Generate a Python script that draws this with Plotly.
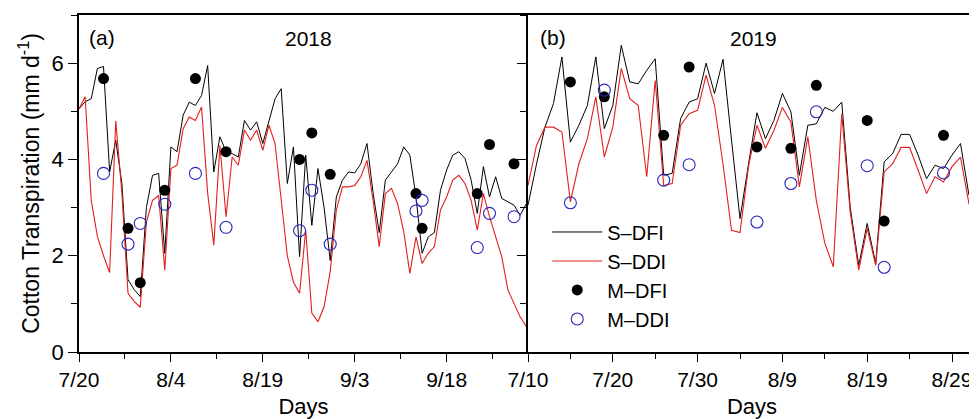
import plotly.graph_objects as go

# ---------------- data ----------------
# 2018 panel: days since 7/20
days_2018 = list(range(74))
sdfi_2018 = [5.05, 5.20, 5.26, 5.89, 5.93, 3.74, 4.40, 3.50, 1.50, 1.30,
             1.15, 3.00, 3.67, 3.71, 2.05, 4.26, 4.16, 4.92, 5.19, 5.12,
             5.33, 5.95, 3.74, 4.47, 4.16, 4.12, 4.05, 4.81, 4.61, 4.78,
             4.33, 4.81, 5.26, 5.47, 3.50, 4.26, 1.98, 4.09, 2.63, 3.81,
             3.00, 1.90, 3.22, 3.57, 3.74, 3.72, 3.91, 4.33, 3.30, 2.48,
             3.57, 3.74, 3.91, 4.26, 4.09, 3.22, 2.05, 2.39, 2.48, 3.36,
             3.78, 4.09, 4.16, 4.02, 3.57, 2.88, 3.85, 3.22, 3.64, 3.19,
             3.12, 3.05, 2.84, 3.08]
sddi_2018 = [5.05, 5.30, 3.15, 2.40, 2.00, 1.65, 4.80, 3.30, 1.22, 1.05,
             0.93, 2.70, 3.15, 3.25, 1.70, 3.81, 3.88, 4.64, 4.88, 4.81,
             5.09, 3.30, 2.22, 4.29, 2.81, 4.05, 3.88, 4.61, 4.40, 4.61,
             4.19, 4.71, 4.33, 3.15, 2.00, 1.45, 1.22, 2.53, 0.81, 0.63,
             0.94, 1.67, 2.95, 3.43, 3.43, 3.46, 3.64, 3.98, 3.15, 2.19,
             3.29, 3.40, 3.08, 2.50, 1.63, 2.39, 1.84, 2.05, 2.19, 2.95,
             3.22, 3.57, 3.67, 3.50, 3.15, 2.53, 3.29, 2.81, 2.39, 1.98,
             1.29, 1.01, 0.73, 0.53]
obs_days_2018 = [4, 8, 10, 14, 19, 24, 36, 38, 41, 55, 56, 65, 67, 71]
mdfi_2018 = [5.68, 2.57, 1.44, 3.36, 5.68, 4.16, 4.00, 4.55, 3.69, 3.29, 2.57, 3.29, 4.31, 3.91]
mddi_2018 = [3.71, 2.24, 2.67, 3.07, 3.71, 2.59, 2.52, 3.36, 2.24, 2.93, 3.15, 2.17, 2.88, 2.81]

# 2019 panel: days since 7/10
days_2019 = list(range(54))
sdfi_2019 = [3.05, 3.90, 4.67, 5.16, 6.13, 4.36, 4.71, 5.12, 6.13, 4.64,
             5.12, 6.37, 5.61, 5.57, 5.85, 6.09, 3.67, 3.71, 4.85, 5.19,
             5.26, 6.00, 5.37, 6.08, 4.40, 2.77, 3.90, 4.97, 4.43, 4.81,
             5.37, 4.99, 3.67, 4.71, 4.74, 5.08, 5.00, 5.19, 3.00, 1.80,
             2.67, 1.84, 3.95, 4.12, 4.52, 4.52, 4.09, 3.60, 3.88, 3.81,
             4.09, 4.33, 3.26, 3.33]
sddi_2019 = [3.46, 4.29, 4.67, 4.67, 4.57, 3.12, 3.91, 4.43, 5.30, 4.05,
             4.67, 5.89, 5.26, 5.12, 3.64, 5.64, 3.46, 3.50, 4.71, 4.95,
             5.02, 5.75, 5.12, 3.90, 2.53, 2.48, 3.85, 4.71, 4.23, 4.60,
             5.08, 4.78, 3.43, 4.47, 3.15, 2.26, 1.77, 4.95, 2.90, 1.70,
             2.57, 1.80, 3.74, 3.91, 4.25, 4.25, 3.78, 3.29, 3.64, 3.53,
             3.85, 4.05, 3.08, 3.15]
obs_days_2019 = [5, 9, 16, 19, 27, 31, 34, 40, 42, 49]
mdfi_2019 = [5.61, 5.30, 4.50, 5.92, 4.26, 4.23, 5.54, 4.81, 2.72, 4.50]
mddi_2019 = [3.10, 5.44, 3.57, 3.89, 2.70, 3.50, 4.99, 3.87, 1.76, 3.72]

# tick labels
ticks_2018 = [0, 15, 30, 45, 60]
labels_2018 = ["7/20", "8/4", "8/19", "9/3", "9/18"]
ticks_2019 = [0, 10, 20, 30, 40, 50]
labels_2019 = ["7/10", "7/20", "7/30", "8/9", "8/19", "8/29"]
y_ticks = [0, 2, 4, 6]

# ---------------- style ----------------
FONT = "Liberation Sans, Arial, sans-serif"
BLACK = "#000000"
RED = "rgb(228,30,30)"
BLUE = "rgb(40,40,185)"

fig = go.Figure()

def add_panel(xd, s_dfi, s_ddi, od, m_dfi, m_ddi, xa, ya, show):
    fig.add_trace(go.Scatter(x=xd, y=s_dfi, mode="lines", name="S\u2013DFI",
                             line=dict(color=BLACK, width=1), xaxis=xa, yaxis=ya,
                             legendgroup="a", showlegend=show))
    fig.add_trace(go.Scatter(x=xd, y=s_ddi, mode="lines", name="S\u2013DDI",
                             line=dict(color=RED, width=1.1), xaxis=xa, yaxis=ya,
                             legendgroup="b", showlegend=show))
    fig.add_trace(go.Scatter(x=od, y=m_dfi, mode="markers", name="M\u2013DFI",
                             marker=dict(color=BLACK, size=11, symbol="circle"),
                             xaxis=xa, yaxis=ya, legendgroup="c", showlegend=show))
    fig.add_trace(go.Scatter(x=od, y=m_ddi, mode="markers", name="M\u2013DDI",
                             marker=dict(color=BLUE, size=12, symbol="circle-open",
                                         line=dict(color=BLUE, width=1.1)),
                             xaxis=xa, yaxis=ya, legendgroup="d", showlegend=show))

add_panel(days_2018, sdfi_2018, sddi_2018, obs_days_2018, mdfi_2018, mddi_2018, "x", "y", False)
add_panel(days_2019, sdfi_2019, sddi_2019, obs_days_2019, mdfi_2019, mddi_2019, "x2", "y2", True)

split = 449 / 897

common_x = dict(showline=True, linecolor=BLACK, linewidth=1.5, mirror=True,
                ticks="outside", ticklen=8, tickwidth=1.3, tickcolor=BLACK,
                showgrid=False, zeroline=False, automargin=False,
                tickfont=dict(family=FONT, size=21, color=BLACK),
                title=dict(text="Days", font=dict(family=FONT, size=22, color=BLACK), standoff=9))
common_y = dict(range=[0, 7], showline=True, linecolor=BLACK, linewidth=1.5,
                ticks="outside", ticklen=9, tickwidth=1.3, tickcolor=BLACK,
                tickvals=y_ticks, showgrid=False, zeroline=False, automargin=False,
                minor=dict(dtick=1, tick0=0, ticks="outside", ticklen=6, tickwidth=1.3, tickcolor=BLACK),
                tickfont=dict(family=FONT, size=22, color=BLACK))

# the page body has an 8px margin, so the figure is offset by 8px in x and y
fig.update_layout(
    width=969, height=411,
    margin=dict(l=71, r=1, t=7, b=67, autoexpand=False),
    paper_bgcolor="white", plot_bgcolor="white",
    font=dict(family=FONT, color=BLACK),
    xaxis=dict(domain=[0, split], range=[0, 449 / 6.127], tickvals=ticks_2018, ticktext=labels_2018,
               minor=dict(dtick=7.5, tick0=0, ticks="outside", ticklen=5, tickwidth=1.3, tickcolor=BLACK),
               anchor="y", **common_x),
    xaxis2=dict(domain=[split, 1], range=[0, 448 / 8.48], tickvals=ticks_2019, ticktext=labels_2019,
                minor=dict(dtick=5, tick0=0, ticks="outside", ticklen=5, tickwidth=1.3, tickcolor=BLACK),
                anchor="y2", **common_x),
    yaxis=dict(domain=[0, 1], anchor="x", mirror=False,
               title=dict(text="Cotton Transpiration (mm d<sup>-1</sup>)",
                          font=dict(family=FONT, size=23, color=BLACK), standoff=6),
               **common_y),
    yaxis2=dict(domain=[0, 1], anchor="x2", showticklabels=False, mirror=True, **common_y),
    legend=dict(x=0.522, y=0.414, xanchor="left", yanchor="top",
                font=dict(family=FONT, size=20, color=BLACK),
                bgcolor="rgba(0,0,0,0)", borderwidth=0, itemwidth=50,
                tracegroupgap=0),
    annotations=[
        dict(text="(a)", x=(102 - 79) / 897, y=(352 - 37) / 337, xref="paper", yref="paper",
             showarrow=False, xanchor="center", yanchor="middle",
             font=dict(family=FONT, size=21, color=BLACK)),
        dict(text="2018", x=(308 - 79) / 897, y=(352 - 38) / 337, xref="paper", yref="paper",
             showarrow=False, xanchor="center", yanchor="middle",
             font=dict(family=FONT, size=21, color=BLACK)),
        dict(text="(b)", x=(553 - 79) / 897, y=(352 - 37) / 337, xref="paper", yref="paper",
             showarrow=False, xanchor="center", yanchor="middle",
             font=dict(family=FONT, size=21, color=BLACK)),
        dict(text="2019", x=(753 - 79) / 897, y=(352 - 38) / 337, xref="paper", yref="paper",
             showarrow=False, xanchor="center", yanchor="middle",
             font=dict(family=FONT, size=21, color=BLACK)),
    ],
)

fig.write_html("out.html")
